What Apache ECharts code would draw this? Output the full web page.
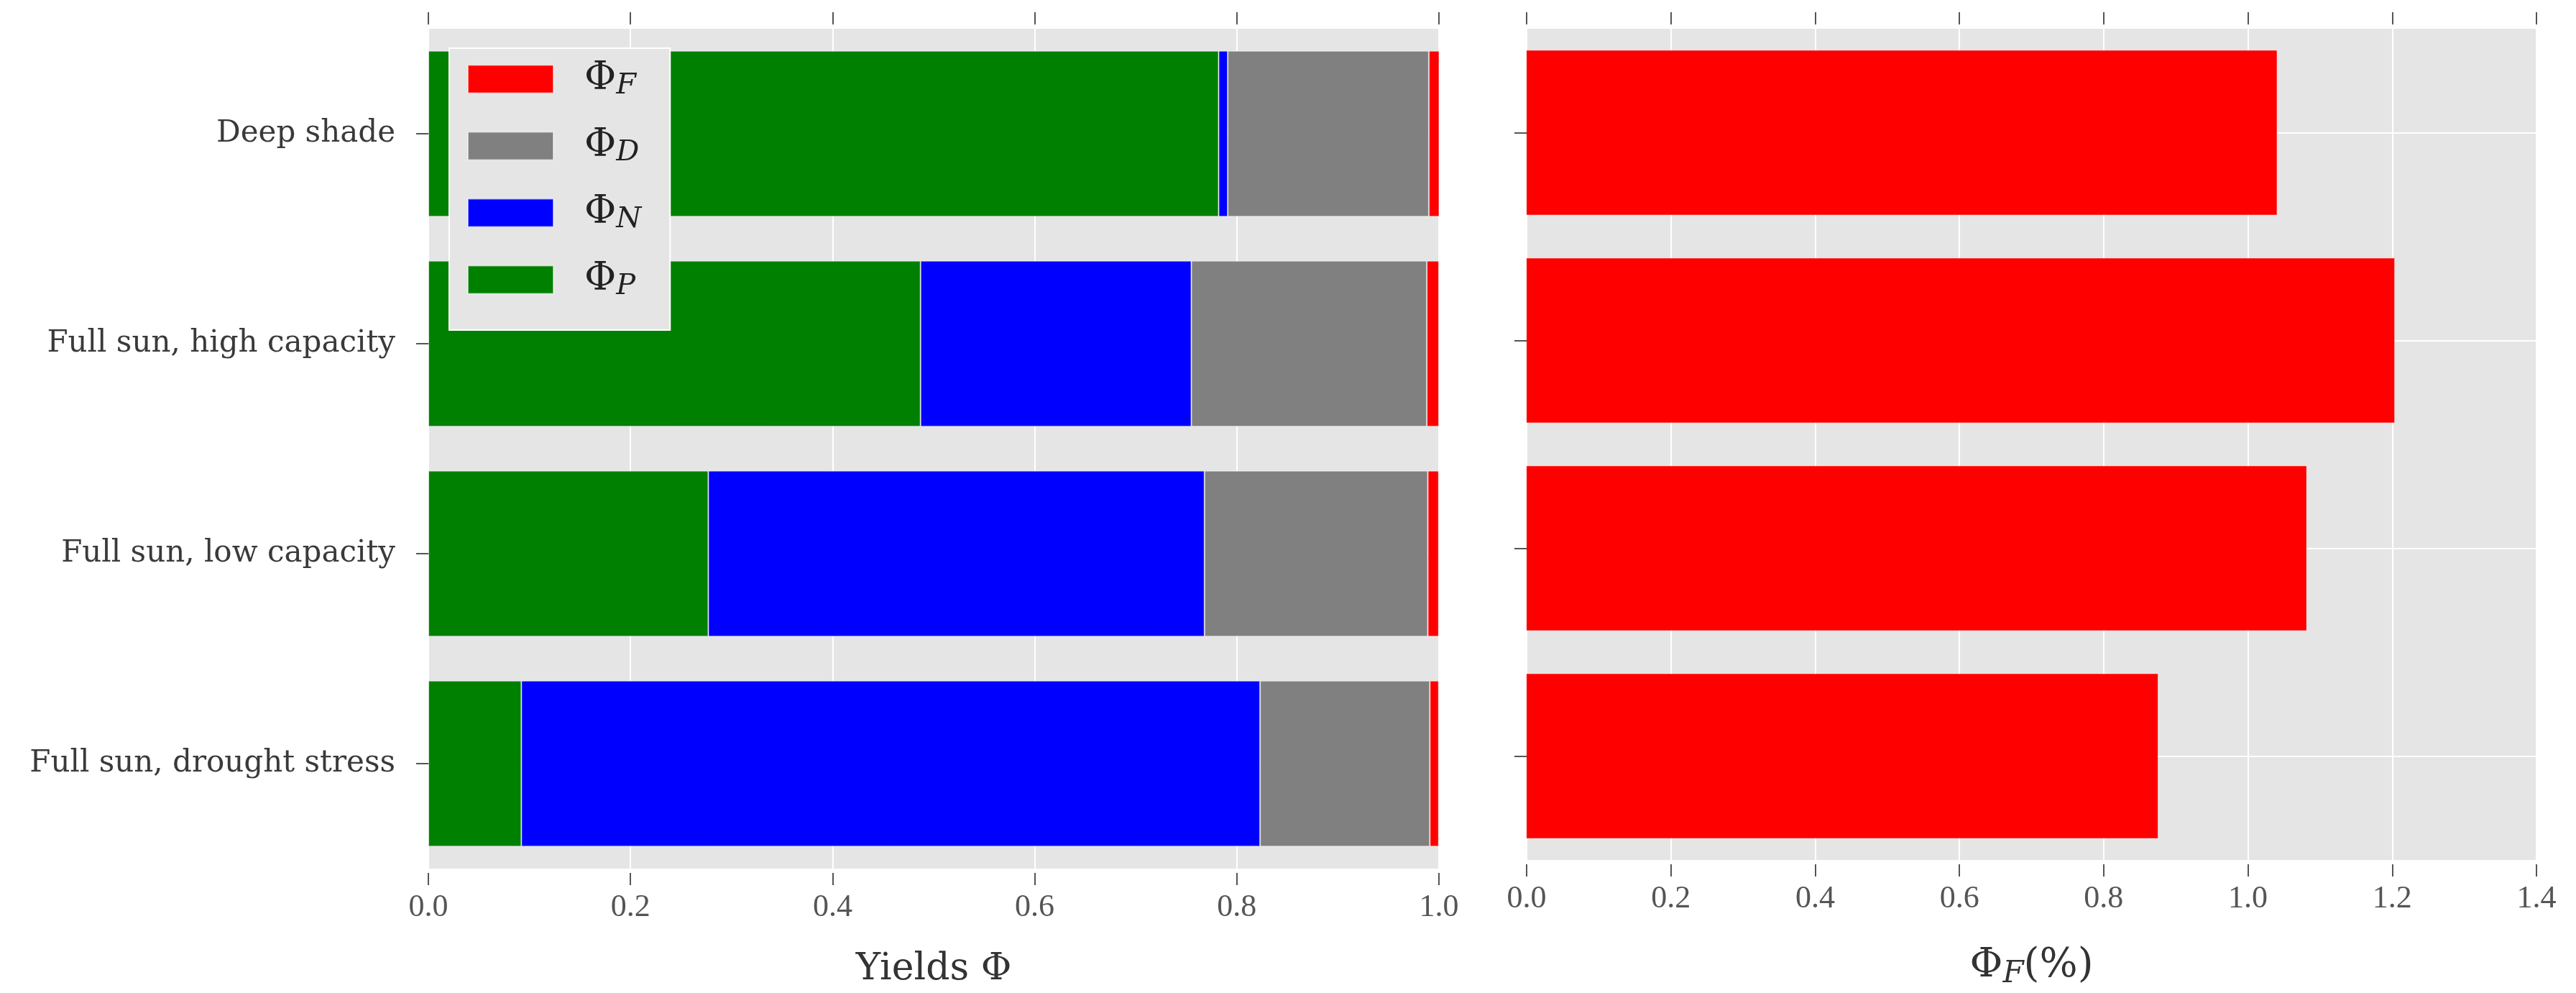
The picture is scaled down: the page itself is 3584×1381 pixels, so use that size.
<!DOCTYPE html>
<html>
<head>
<meta charset="utf-8">
<script src="https://cdn.jsdelivr.net/npm/echarts@6/dist/echarts.min.js"></script>
<style>
  html, body { margin: 0; padding: 0; background: #fff; }
  #chart { width: 3584px; height: 1381px; }
</style>
</head>
<body>
<div id="chart"></div>
<script>
// conditions, top to bottom
var categories = ['Deep shade', 'Full sun, high capacity', 'Full sun, low capacity', 'Full sun, drought stress'];

// yields (fractions), stacked left to right: P, N, D, F
var phiP = [0.782, 0.487, 0.277, 0.092];
var phiN = [0.009, 0.268, 0.491, 0.731];
var phiD = [0.199, 0.233, 0.221, 0.168];
var phiF = [0.0104, 0.0120, 0.0108, 0.0088];

// fluorescence yield in percent (right panel)
var phiFPercent = [1.040, 1.203, 1.081, 0.875];

// tick labels
var yieldTicks = [0.0, 0.2, 0.4, 0.6, 0.8, 1.0];
var percentTicks = [0.0, 0.2, 0.4, 0.6, 0.8, 1.0, 1.2, 1.4];

var legendNames = ['ΦF', 'ΦD', 'ΦN', 'ΦP'];
var colors = { F: '#ff0000', D: '#808080', N: '#0000ff', P: '#008000' };

var FONT = 'Liberation Serif';
var WIDE = 'DejaVu Serif';
var TICK = { show: true, length: 17, lineStyle: { color: '#555', width: 2 } };
var GRIDLINE = { show: true, lineStyle: { color: '#ffffff', width: 2 } };

var subRich = {
    a: { fontFamily: WIDE, fontSize: 56, color: '#333', lineHeight: 66, verticalAlign: 'middle' },
    s: { fontFamily: WIDE, fontSize: 42, fontStyle: 'italic', color: '#333', lineHeight: 38, verticalAlign: 'bottom' }
};

function xAxes(gridIndex, ticks, nameText) {
    var base = {
        type: 'value',
        gridIndex: gridIndex,
        min: ticks[0],
        max: ticks[ticks.length - 1],
        interval: ticks[1] - ticks[0],
        offset: 6,
        axisLine: { show: false },
        axisTick: TICK
    };
    var bottom = Object.assign({}, base, {
        position: 'bottom',
        splitLine: GRIDLINE,
        axisLabel: {
            margin: 26,
            fontFamily: FONT, fontSize: 44, color: '#555',
            formatter: function (v) { return v.toFixed(1); }
        },
        name: nameText,
        nameLocation: 'middle',
        nameGap: 108,
        nameTextStyle: { fontFamily: WIDE, fontSize: 52, color: '#333', rich: subRich }
    });
    var top = Object.assign({}, base, {
        position: 'top',
        splitLine: { show: false },
        axisLabel: { show: false }
    });
    return [bottom, top];
}

function yAxes(gridIndex, withLabels) {
    var left = {
        type: 'category',
        gridIndex: gridIndex,
        data: categories,
        inverse: true,
        position: 'left',
        offset: 4,
        axisLine: { show: false },
        axisTick: Object.assign({ alignWithLabel: true }, TICK),
        splitLine: Object.assign({ alignWithLabel: true }, GRIDLINE),
        axisLabel: withLabels ? { margin: 42, fontFamily: WIDE, fontSize: 42, color: '#3a3a3a' } : { show: false }
    };
    var right = {
        type: 'category',
        gridIndex: gridIndex,
        data: categories,
        inverse: true,
        position: 'right',
        offset: 4,
        axisLine: { show: false },
        axisTick: Object.assign({ alignWithLabel: true }, TICK),
        splitLine: { show: false },
        axisLabel: { show: false }
    };
    return [left, right];
}

function stackSeries(name, data, color) {
    return {
        name: name,
        type: 'bar',
        stack: 'yield',
        xAxisIndex: 0,
        yAxisIndex: 0,
        barCategoryGap: '21%',
        data: data,
        itemStyle: { color: color, borderColor: 'rgba(255,255,255,0.55)', borderWidth: 1 }
    };
}

var chart = echarts.init(document.getElementById('chart'), null, { renderer: 'canvas' });

chart.setOption({
    backgroundColor: '#ffffff',
    animation: false,
    grid: [
        { left: 596, top: 40, width: 1406, height: 1168, show: true, backgroundColor: '#e5e5e5', borderWidth: 0 },
        { left: 2124, top: 40, width: 1405, height: 1168, show: true, backgroundColor: '#e5e5e5', borderWidth: 0 }
    ],
    xAxis: xAxes(0, yieldTicks, 'Yields Φ').concat(xAxes(1, percentTicks, '{a|Φ}{s|F}{a|(%)}')),
    yAxis: yAxes(0, true).concat(yAxes(1, false)),
    legend: {
        data: legendNames,
        orient: 'vertical',
        left: 625,
        top: 67,
        padding: [16, 40, 40, 25],
        itemWidth: 119,
        itemHeight: 39,
        itemGap: 36,
        icon: 'rect',
        backgroundColor: '#e5e5e5',
        borderColor: '#ffffff',
        borderWidth: 2,
        selectedMode: false,
        formatter: function (name) {
            return '{a|' + name.charAt(0) + '}{s|' + name.slice(1) + '}';
        },
        textStyle: {
            rich: {
                a: { fontFamily: WIDE, fontSize: 54, color: '#222', lineHeight: 60, verticalAlign: 'middle', padding: [0, 0, 0, 38] },
                s: { fontFamily: WIDE, fontSize: 40, fontStyle: 'italic', color: '#222', lineHeight: 34, verticalAlign: 'bottom' }
            }
        }
    },
    series: [
        stackSeries('ΦP', phiP, colors.P),
        stackSeries('ΦN', phiN, colors.N),
        stackSeries('ΦD', phiD, colors.D),
        stackSeries('ΦF', phiF, colors.F),
        {
            name: 'ΦF (%)',
            type: 'bar',
            xAxisIndex: 2,
            yAxisIndex: 2,
            barCategoryGap: '21%',
            data: phiFPercent,
            itemStyle: { color: colors.F }
        }
    ]
});
</script>
</body>
</html>
